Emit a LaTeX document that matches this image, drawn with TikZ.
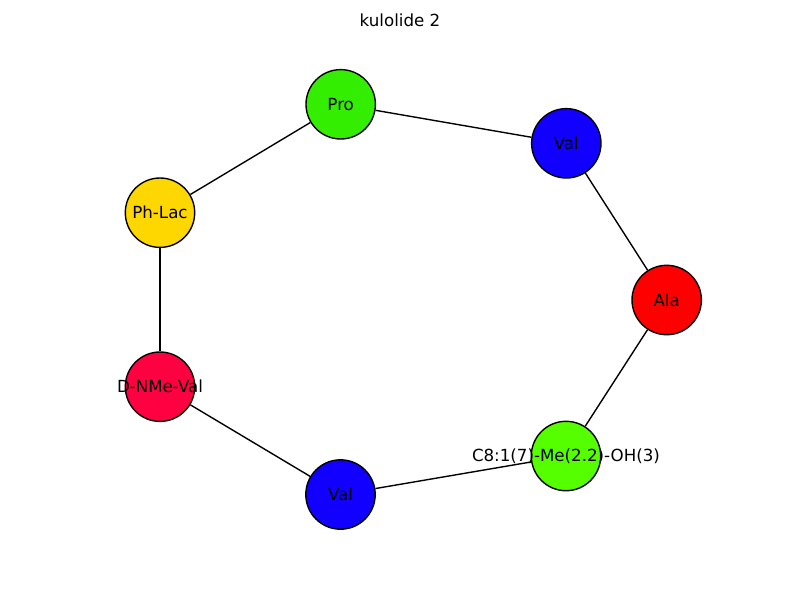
\documentclass[tikz,border=0pt]{standalone}
\usepackage{fontspec}
\setmainfont{DejaVu Sans}
\begin{document}
\begin{tikzpicture}[x=1pt,y=-1pt,
  res/.style={circle,draw=black,line width=1.39pt,minimum size=69.4pt,inner sep=0pt,
    font=\fontsize{16.67}{20}\selectfont},
  bond/.style={draw=black,line width=1.39pt}]
\useasboundingbox (0,0) rectangle (800,600);
\definecolor{cpro}{RGB}{51,238,0}
\definecolor{cval}{RGB}{17,0,255}
\definecolor{cala}{RGB}{255,0,0}
\definecolor{cceight}{RGB}{85,255,0}
\definecolor{cnme}{RGB}{255,0,64}
\definecolor{cphlac}{RGB}{255,215,0}
\node[font=\fontsize{16.67}{20}\selectfont] (title) at (400,20) {kulolide 2};
\node[res,fill=cpro] (pro) at (340.7,104.3) {Pro};
\node[res,fill=cval] (val1) at (566.3,143.3) {Val};
\node[res,fill=cala] (ala) at (666.7,300) {Ala};
\node[res,fill=cceight] (c8) at (566,456) {};
\node[res,fill=cval] (val2) at (340.5,494.5) {Val};
\node[res,fill=cnme] (nme) at (160,386.7) {};
\node[res,fill=cphlac] (phlac) at (160,212.7) {Ph-Lac};
\node[font=\fontsize{16.67}{20}\selectfont] (c8lab) at (c8) {C8:1(7)-Me(2.2)-OH(3)};
\node[font=\fontsize{16.67}{20}\selectfont] (nmelab) at (nme) {D-NMe-Val};
\path[bond] (pro) -- (val1);
\path[bond] (val1) -- (ala);
\path[bond] (ala) -- (c8);
\path[bond] (c8) -- (val2);
\path[bond] (val2) -- (nme);
\path[bond] (nme) -- (phlac);
\path[bond] (phlac) -- (pro);
\end{tikzpicture}
\end{document}
